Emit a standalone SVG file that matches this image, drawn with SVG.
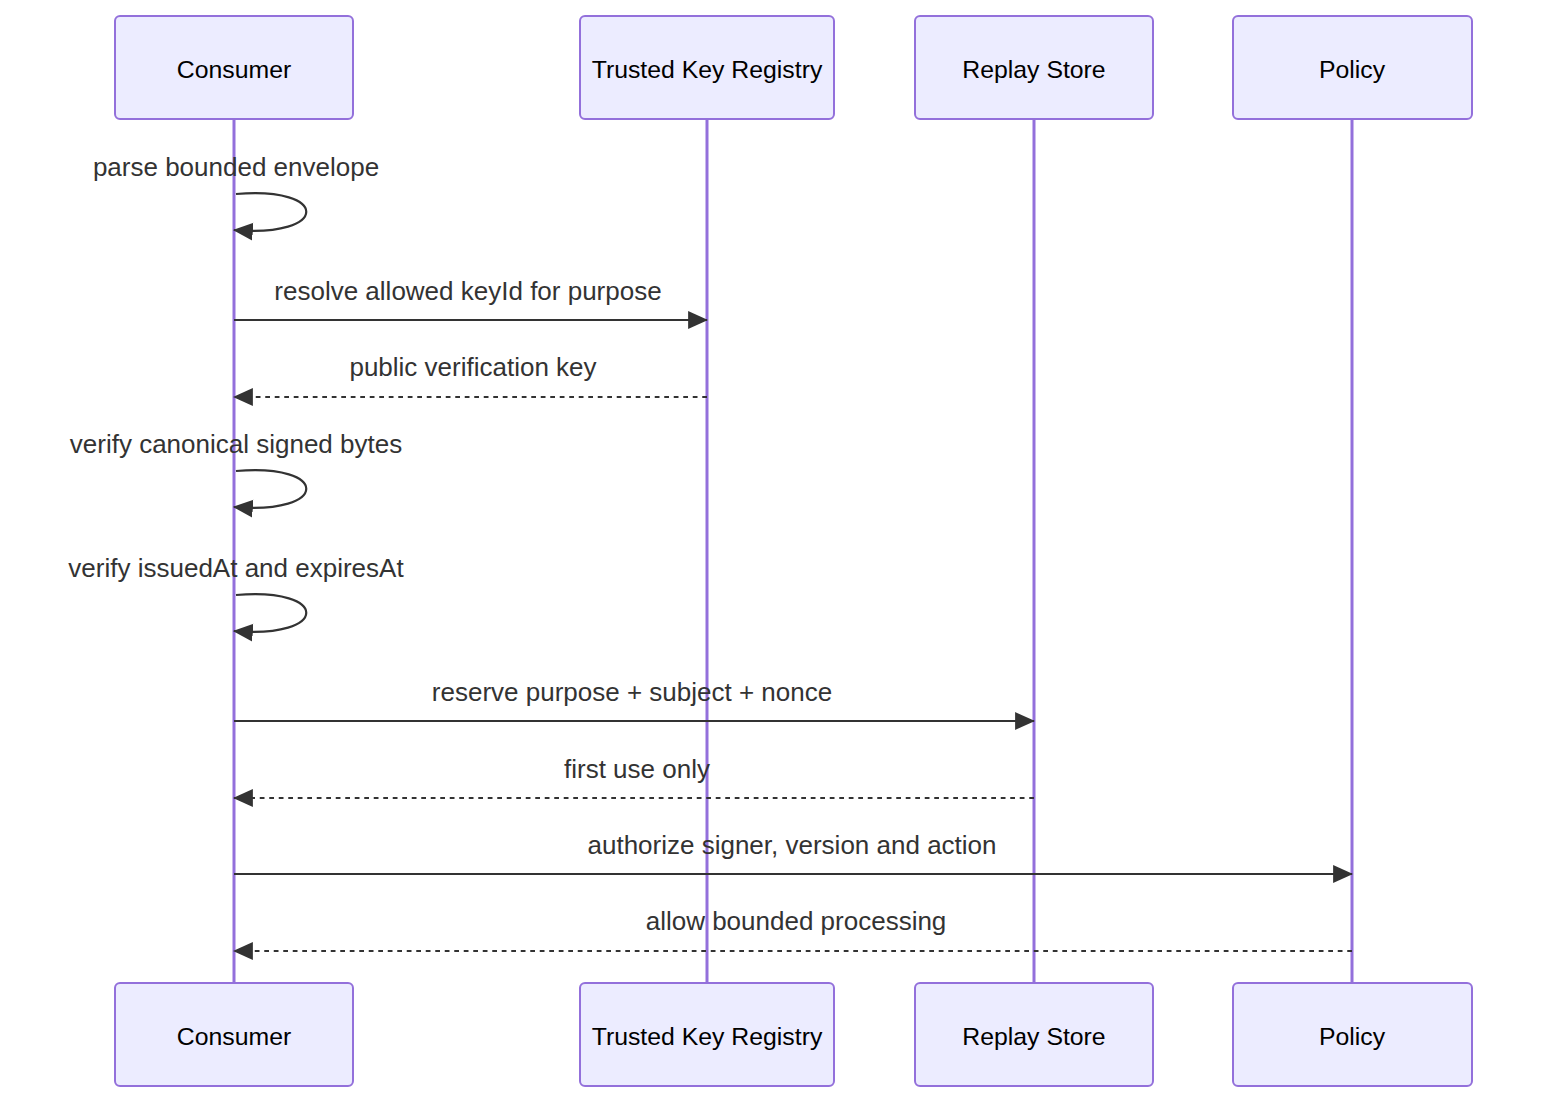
<svg xmlns="http://www.w3.org/2000/svg" width="1568" height="1116" viewBox="0 0 1568 1116">
<style>
.actor rect{fill:#ECECFF;stroke:#9370DB;stroke-width:2}
.actor text{font-family:"Liberation Sans",Arial,sans-serif;font-size:24.8px;fill:#000;text-anchor:middle;dominant-baseline:central}
.life{stroke:#9370DB;stroke-width:3}
.msg{stroke:#333;stroke-width:2.2;fill:none}
.dash{stroke-dasharray:4.75,4.75}
.lbl{font-family:"Liberation Sans",Arial,sans-serif;font-size:26px;fill:#333;text-anchor:middle;dominant-baseline:central}
</style>
<defs>
<marker id="ah" markerUnits="userSpaceOnUse" markerWidth="20" markerHeight="20" viewBox="0 0 18 16" refX="17" refY="8" orient="auto">
<path d="M0,0 L18,8 L0,16 z" fill="#333"/>
</marker>
</defs>
<rect width="1568" height="1116" fill="#fff"/>
<g id="lifelines">
<line class="life" x1="234" y1="119" x2="234" y2="983"/>
<line class="life" x1="707" y1="119" x2="707" y2="983"/>
<line class="life" x1="1034" y1="119" x2="1034" y2="983"/>
<line class="life" x1="1352" y1="119" x2="1352" y2="983"/>
</g>
<g id="consumer-top" class="actor"><rect x="115" y="16" width="238" height="103" rx="5"/><text x="234" y="69">Consumer</text></g>
<g id="registry-top" class="actor"><rect x="580" y="16" width="254" height="103" rx="5"/><text x="707" y="69">Trusted Key Registry</text></g>
<g id="replay-top" class="actor"><rect x="915" y="16" width="238" height="103" rx="5"/><text x="1034" y="69">Replay Store</text></g>
<g id="policy-top" class="actor"><rect x="1233" y="16" width="239" height="103" rx="5"/><text x="1352" y="69">Policy</text></g>
<g id="consumer-bottom" class="actor"><rect x="115" y="983" width="238" height="103" rx="5"/><text x="234" y="1036">Consumer</text></g>
<g id="registry-bottom" class="actor"><rect x="580" y="983" width="254" height="103" rx="5"/><text x="707" y="1036">Trusted Key Registry</text></g>
<g id="replay-bottom" class="actor"><rect x="915" y="983" width="238" height="103" rx="5"/><text x="1034" y="1036">Replay Store</text></g>
<g id="policy-bottom" class="actor"><rect x="1233" y="983" width="239" height="103" rx="5"/><text x="1352" y="1036">Policy</text></g>
<g id="connectors">
<path class="msg" d="M236,194 C330,186 330,238 234,230" marker-end="url(#ah)"/>
<text class="lbl" x="236" y="167">parse bounded envelope</text>
<line class="msg" x1="234" y1="320" x2="707" y2="320" marker-end="url(#ah)"/>
<text class="lbl" x="468" y="291">resolve allowed keyId for purpose</text>
<line class="msg dash" x1="707" y1="397" x2="234" y2="397" marker-end="url(#ah)"/>
<text class="lbl" x="473" y="367">public verification key</text>
<path class="msg" d="M236,471 C330,463 330,515 234,507" marker-end="url(#ah)"/>
<text class="lbl" x="236" y="444">verify canonical signed bytes</text>
<path class="msg" d="M236,595 C330,587 330,639 234,631" marker-end="url(#ah)"/>
<text class="lbl" x="236" y="568">verify issuedAt and expiresAt</text>
<line class="msg" x1="234" y1="721" x2="1034" y2="721" marker-end="url(#ah)"/>
<text class="lbl" x="632" y="692">reserve purpose + subject + nonce</text>
<line class="msg dash" x1="1034" y1="798" x2="234" y2="798" marker-end="url(#ah)"/>
<text class="lbl" x="637" y="769">first use only</text>
<line class="msg" x1="234" y1="874" x2="1352" y2="874" marker-end="url(#ah)"/>
<text class="lbl" x="792" y="845">authorize signer, version and action</text>
<line class="msg dash" x1="1352" y1="951" x2="234" y2="951" marker-end="url(#ah)"/>
<text class="lbl" x="796" y="921">allow bounded processing</text>
</g>
</svg>
